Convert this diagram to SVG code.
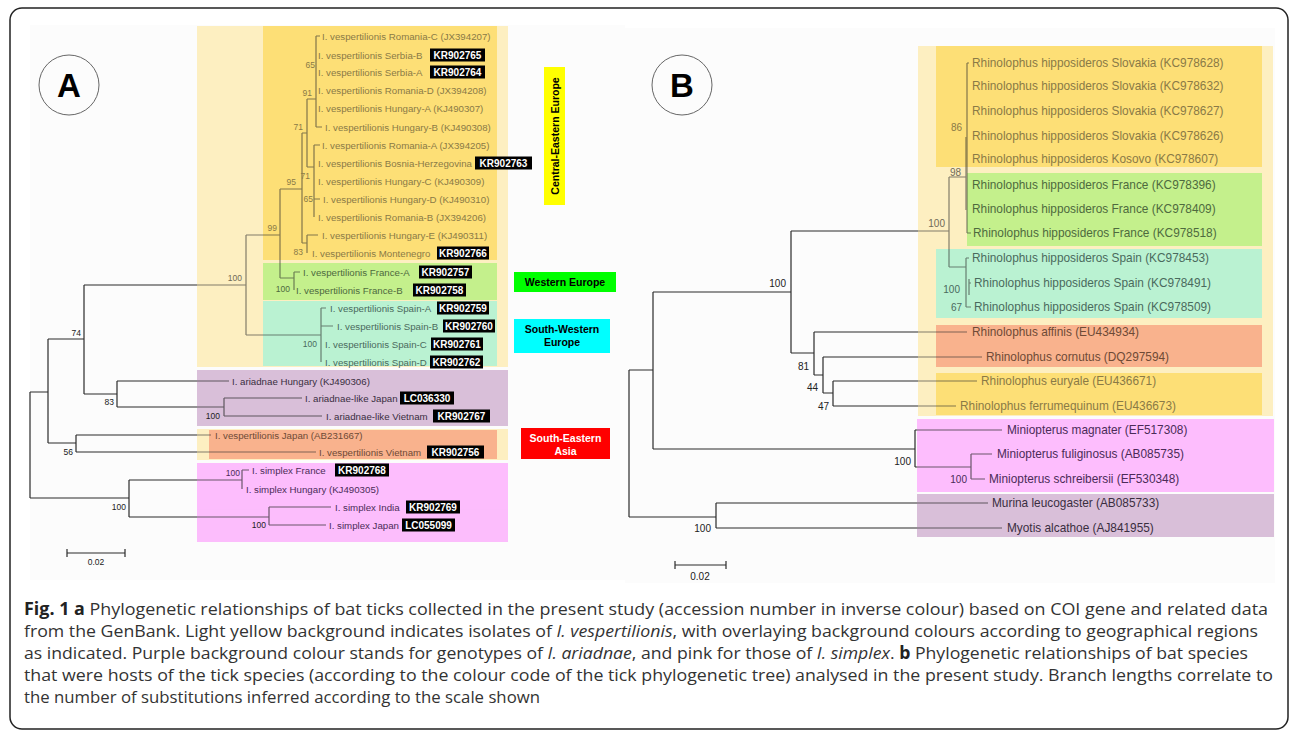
<svg xmlns="http://www.w3.org/2000/svg" xmlns:xlink="http://www.w3.org/1999/xlink" width="1292" height="733" viewBox="0 0 1292 733">
<style>
text{font-family:"Liberation Sans",Arial,sans-serif;}
.a{font-size:9.7px}
.b{font-size:11.85px}
.bs{font-size:8.5px;text-anchor:end}
.bb{font-size:10px;text-anchor:end}
.kb{fill:#000}
.kt{font-size:10px;font-weight:bold;fill:#fff;text-anchor:middle}
.ty{fill:#8a7a46}.tg{fill:#4e6a3e}.tc{fill:#4a6a5d}.tp{fill:#3a2e3f}.to{fill:#6e4a36}.tk{fill:#4b2b58}.tl{fill:#6f6a58}.tn{fill:#222}
.lg{font-size:10.5px;font-weight:bold;text-anchor:middle}
.tree{fill:none;stroke:#2b2b2b;stroke-width:1.2}
.cap{font-family:"Open Sans","Noto Sans",sans-serif;font-size:17px;fill:#333}
</style>
<defs>
<g id="reg1">
<rect x="197" y="26" width="311" height="341" fill="#fdefc1"/>
<rect x="263" y="26" width="234" height="234" fill="#fddf76"/>
<rect x="263" y="263" width="234" height="37" fill="#c4f08c"/>
<rect x="263" y="301" width="234" height="65" fill="#baf2d2"/>
<rect x="197" y="429" width="311" height="31" fill="#fdefc1"/>
<rect x="209" y="430" width="288" height="29" fill="#f9b28d"/>
<rect x="918" y="46" width="355" height="370" fill="#fdefc1"/>
<rect x="936" y="46" width="326" height="121" fill="#fddf76"/>
<rect x="967" y="173" width="295" height="73" fill="#c4f08c"/>
<rect x="936" y="249" width="326" height="69" fill="#baf2d2"/>
<rect x="936" y="325" width="326" height="42" fill="#f9b28d"/>
<rect x="936" y="373" width="326" height="42" fill="#fddf76"/>
</g>
<g id="reg2">
<rect x="197" y="370" width="311" height="56" fill="#d9bfd9"/>
<rect x="197" y="463" width="311" height="79" fill="#fdbdfd"/>
<rect x="917" y="419" width="357" height="73" fill="#fdbdfd"/>
<rect x="917" y="494" width="357" height="43" fill="#d9bfd9"/>
</g>
</defs>
<rect width="1292" height="733" fill="#fff"/>
<rect x="10" y="8" width="1278" height="721" rx="12" fill="#fff" stroke="#222" stroke-width="1.5"/>
<rect x="30" y="25" width="595" height="555" fill="#fcfcfc"/>
<rect x="625" y="28" width="650" height="555" fill="#fcfcfc"/>
<use xlink:href="#reg1"/>
<use xlink:href="#reg2"/>
<g id="connectors">
<path class="tree" d="M30 392V498M30 392H48M48 339V443M48 339H84M84 285V394M84 285H246M246 235V335M246 235H280M280 189V278M280 189H302M302 133V243M302 133H307M307 99V167M307 99H316M316 36V127M316 36H320M316 127H322M307 167H314M314 145V217M314 145H320M314 199H320M302 243H307M307 235V253M307 235H318M280 278H294M294 272V290M294 272H300M246 335H321M321 308V362M321 308H326M321 326H333M84 394H117M117 381V407M117 381H229M117 407H224M224 398V416M224 398H302M224 416H322M48 443H76M76 435V452M76 435H211M76 452H316M30 498H129M129 480V517M129 480H242M242 470V489M242 470H249M129 517H269M269 507V525M269 507H331M269 525H326"/>
<path class="tree" d="M629 370V517M629 370H653M653 292V449M653 292H791M791 231V353M791 231H949M949 177V267M949 177H966M967 63V233M967 63H969M967 233H971M949 267H966M966 258V307M966 258H969M966 307H971M969 279V295M969 283H971M791 353H814M814 332V375M814 332H967M814 375H823M823 357V393M823 357H982M823 393H833M833 381V406M833 381H977M833 406H956M653 449H915M915 430V467M915 430H1002M915 467H971M971 454V479M971 454H992M971 479H985M629 517H716M716 503V528M716 503H988M716 528H1002"/>
<path class="tree" d="M966 137V210" stroke-width="2"/>
<path class="tree" d="M67 553H125M67 549V557M125 549V557"/>
<path class="tree" d="M675 565H726M675 561V569M726 561V569"/>
</g>
<use xlink:href="#reg1" opacity="0.42"/>
<use xlink:href="#reg2" opacity="0.3"/>
<g id="panelA-label"><circle cx="69" cy="85" r="30" fill="none" stroke="#666" stroke-width="1"/><text x="69" y="97" font-size="33" font-weight="bold" text-anchor="middle" fill="#000">A</text></g>
<g id="panelB-label"><circle cx="682" cy="85" r="30" fill="none" stroke="#666" stroke-width="1"/><text x="682" y="97" font-size="33" font-weight="bold" text-anchor="middle" fill="#000">B</text></g>
<g id="a-romania-c"><text class="a ty" x="322" y="39.5">I. vespertilionis Romania-C (JX394207)</text></g>
<g id="a-serbia-b"><text class="a ty" x="318" y="58.5">I. vespertilionis Serbia-B</text><rect class="kb" x="430" y="48.5" width="55" height="13"/><text class="kt" x="457.5" y="58.6">KR902765</text></g>
<g id="a-serbia-a"><text class="a ty" x="318" y="75.5">I. vespertilionis Serbia-A</text><rect class="kb" x="430" y="65.5" width="55" height="13"/><text class="kt" x="457.5" y="75.6">KR902764</text></g>
<g id="a-romania-d"><text class="a ty" x="318" y="93.5">I. vespertilionis Romania-D (JX394208)</text></g>
<g id="a-hungary-a"><text class="a ty" x="318" y="111.5">I. vespertilionis Hungary-A (KJ490307)</text></g>
<g id="a-hungary-b"><text class="a ty" x="325" y="130.5">I. vespertilionis Hungary-B (KJ490308)</text></g>
<g id="a-romania-a"><text class="a ty" x="322" y="148.5">I. vespertilionis Romania-A (JX394205)</text></g>
<g id="a-bosnia"><text class="a ty" x="318" y="166.5">I. vespertilionis Bosnia-Herzegovina</text><rect class="kb" x="475" y="156.5" width="57" height="13"/><text class="kt" x="503.5" y="166.6">KR902763</text></g>
<g id="a-hungary-c"><text class="a ty" x="318" y="184.5">I. vespertilionis Hungary-C (KJ490309)</text></g>
<g id="a-hungary-d"><text class="a ty" x="323" y="202.5">I. vespertilionis Hungary-D (KJ490310)</text></g>
<g id="a-romania-b"><text class="a ty" x="318" y="220.5">I. vespertilionis Romania-B (JX394206)</text></g>
<g id="a-hungary-e"><text class="a ty" x="322" y="238.5">I. vespertilionis Hungary-E (KJ490311)</text></g>
<g id="a-montenegro"><text class="a ty" x="312" y="256.5">I. vespertilionis Montenegro</text><rect class="kb" x="437" y="246.5" width="52" height="13"/><text class="kt" x="463" y="256.6">KR902766</text></g>
<g id="a-france-a"><text class="a tg" x="303" y="275.5">I. vespertilionis France-A</text><rect class="kb" x="419" y="265.5" width="53" height="13"/><text class="kt" x="445.5" y="275.6">KR902757</text></g>
<g id="a-france-b"><text class="a tg" x="296" y="293.5">I. vespertilionis France-B</text><rect class="kb" x="413" y="283.5" width="53" height="13"/><text class="kt" x="439.5" y="293.6">KR902758</text></g>
<g id="a-spain-a"><text class="a tc" x="330" y="311.5">I. vespertilionis Spain-A</text><rect class="kb" x="437" y="301.5" width="52" height="13"/><text class="kt" x="463" y="311.6">KR902759</text></g>
<g id="a-spain-b"><text class="a tc" x="337" y="329.5">I. vespertilionis Spain-B</text><rect class="kb" x="443" y="319.5" width="52" height="13"/><text class="kt" x="469" y="329.6">KR902760</text></g>
<g id="a-spain-c"><text class="a tc" x="325" y="347.5">I. vespertilionis Spain-C</text><rect class="kb" x="431" y="337.5" width="52" height="13"/><text class="kt" x="457" y="347.6">KR902761</text></g>
<g id="a-spain-d"><text class="a tc" x="325" y="365.5">I. vespertilionis Spain-D</text><rect class="kb" x="430" y="355.5" width="53" height="13"/><text class="kt" x="456.5" y="365.6">KR902762</text></g>
<g id="a-ariadnae-hungary"><text class="a tp" x="232" y="384.5">I. ariadnae Hungary (KJ490306)</text></g>
<g id="a-ariadnae-japan"><text class="a tp" x="305" y="401.5">I. ariadnae-like Japan</text><rect class="kb" x="400" y="391.5" width="54" height="13"/><text class="kt" x="427" y="401.6">LC036330</text></g>
<g id="a-ariadnae-vietnam"><text class="a tp" x="326" y="419.5">I. ariadnae-like Vietnam</text><rect class="kb" x="433" y="409.5" width="57" height="13"/><text class="kt" x="461.5" y="419.6">KR902767</text></g>
<g id="a-vesp-japan"><text class="a to" x="215" y="438.5">I. vespertilionis Japan (AB231667)</text></g>
<g id="a-vesp-vietnam"><text class="a to" x="319" y="455.5">I. vespertilionis Vietnam</text><rect class="kb" x="427" y="445.5" width="57" height="13"/><text class="kt" x="455.5" y="455.6">KR902756</text></g>
<g id="a-simplex-france"><text class="a tk" x="252" y="473.5">I. simplex France</text><rect class="kb" x="335" y="463.5" width="54" height="13"/><text class="kt" x="362" y="473.6">KR902768</text></g>
<g id="a-simplex-hungary"><text class="a tk" x="246" y="492.5">I. simplex Hungary (KJ490305)</text></g>
<g id="a-simplex-india"><text class="a tk" x="335" y="510.5">I. simplex India</text><rect class="kb" x="406" y="500.5" width="54" height="13"/><text class="kt" x="433" y="510.6">KR902769</text></g>
<g id="a-simplex-japan"><text class="a tk" x="329" y="528.5">I. simplex Japan</text><rect class="kb" x="402" y="518.5" width="53" height="13"/><text class="kt" x="428.5" y="528.6">LC055099</text></g>
<g id="a-support">
<text class="bs ty" x="315" y="68">65</text>
<text class="bs ty" x="312" y="96">91</text>
<text class="bs ty" x="303" y="130">71</text>
<text class="bs ty" x="310" y="179">71</text>
<text class="bs ty" x="313" y="202">65</text>
<text class="bs ty" x="296" y="185">95</text>
<text class="bs ty" x="277" y="231">99</text>
<text class="bs ty" x="303" y="255">83</text>
<text class="bs tl" x="242" y="281">100</text>
<text class="bs tg" x="290" y="292">100</text>
<text class="bs tc" x="317" y="347">100</text>
<text class="bs tn" x="81" y="336">74</text>
<text class="bs tn" x="114" y="405">83</text>
<text class="bs tn" x="220" y="419">100</text>
<text class="bs tn" x="73" y="455">56</text>
<text class="bs tn" x="126" y="510">100</text>
<text class="bs tk" x="240" y="476">100</text>
<text class="bs tn" x="266" y="528">100</text>
<text class="tn" x="96" y="565" font-size="8.5" text-anchor="middle">0.02</text>
</g>
<g id="legend-central-eastern"><rect x="544" y="67" width="21" height="138" fill="#ffff00"/><text class="lg" transform="translate(558.5 136) rotate(-90)" fill="#000">Central-Eastern Europe</text></g>
<g id="legend-western"><rect x="514" y="272" width="102" height="20" fill="#00ff00"/><text class="lg" x="565" y="285.5" fill="#000">Western Europe</text></g>
<g id="legend-south-western"><rect x="514" y="319" width="96" height="34" fill="#00ffff"/><text class="lg" x="562" y="333" fill="#000">South-Western</text><text class="lg" x="562" y="346" fill="#000">Europe</text></g>
<g id="legend-south-eastern"><rect x="521" y="428" width="89" height="31" fill="#ff0000"/><text class="lg" x="565.5" y="441.5" fill="#fff">South-Eastern</text><text class="lg" x="565.5" y="454.5" fill="#fff">Asia</text></g>
<g id="b-slovakia-1"><text class="b ty" x="972" y="67.2">Rhinolophus hipposideros Slovakia (KC978628)</text></g>
<g id="b-slovakia-2"><text class="b ty" x="972" y="90.2">Rhinolophus hipposideros Slovakia (KC978632)</text></g>
<g id="b-slovakia-3"><text class="b ty" x="972" y="115.2">Rhinolophus hipposideros Slovakia (KC978627)</text></g>
<g id="b-slovakia-4"><text class="b ty" x="972" y="140.2">Rhinolophus hipposideros Slovakia (KC978626)</text></g>
<g id="b-kosovo"><text class="b ty" x="972" y="163.2">Rhinolophus hipposideros Kosovo (KC978607)</text></g>
<g id="b-france-1"><text class="b tg" x="972" y="189.2">Rhinolophus hipposideros France (KC978396)</text></g>
<g id="b-france-2"><text class="b tg" x="972" y="213.2">Rhinolophus hipposideros France (KC978409)</text></g>
<g id="b-france-3"><text class="b tg" x="973" y="237.2">Rhinolophus hipposideros France (KC978518)</text></g>
<g id="b-spain-1"><text class="b tc" x="972" y="262.2">Rhinolophus hipposideros Spain (KC978453)</text></g>
<g id="b-spain-2"><text class="b tc" x="974" y="287.2">Rhinolophus hipposideros Spain (KC978491)</text></g>
<g id="b-spain-3"><text class="b tc" x="974" y="311.2">Rhinolophus hipposideros Spain (KC978509)</text></g>
<g id="b-affinis"><text class="b to" x="972" y="336.2">Rhinolophus affinis (EU434934)</text></g>
<g id="b-cornutus"><text class="b to" x="986" y="361.2">Rhinolophus cornutus (DQ297594)</text></g>
<g id="b-euryale"><text class="b ty" x="981" y="385.2">Rhinolophus euryale (EU436671)</text></g>
<g id="b-ferrumequinum"><text class="b ty" x="960" y="410.2">Rhinolophus ferrumequinum (EU436673)</text></g>
<g id="b-magnater"><text class="b tk" x="1007" y="434.2">Miniopterus magnater (EF517308)</text></g>
<g id="b-fuliginosus"><text class="b tk" x="997" y="458.2">Miniopterus fuliginosus (AB085735)</text></g>
<g id="b-schreibersii"><text class="b tk" x="989" y="483.2">Miniopterus schreibersii (EF530348)</text></g>
<g id="b-murina"><text class="b tp" x="992" y="507.2">Murina leucogaster (AB085733)</text></g>
<g id="b-myotis"><text class="b tp" x="1007" y="532.2">Myotis alcathoe (AJ841955)</text></g>
<g id="b-support">
<text class="bb tn" x="786" y="287">100</text>
<text class="bb tl" x="945" y="227">100</text>
<text class="bb tl" x="961" y="176">98</text>
<text class="bb ty" x="962" y="131">86</text>
<text class="bb tc" x="960" y="293">100</text>
<text class="bb tc" x="962" y="311">67</text>
<text class="bb tn" x="809" y="370">81</text>
<text class="bb tn" x="818" y="391">44</text>
<text class="bb tn" x="829" y="410">47</text>
<text class="bb tn" x="911" y="465">100</text>
<text class="bb tk" x="967" y="483">100</text>
<text class="bb tn" x="711" y="532">100</text>
<text class="tn" x="700" y="580" font-size="10" text-anchor="middle">0.02</text>
</g>
<g id="caption">
<text class="cap" x="24" y="615" textLength="1244" lengthAdjust="spacingAndGlyphs"><tspan font-weight="bold" fill="#222">Fig. 1 a</tspan> Phylogenetic relationships of bat ticks collected in the present study (accession number in inverse colour) based on COI gene and related data</text>
<text class="cap" x="24" y="637" textLength="1234" lengthAdjust="spacingAndGlyphs">from the GenBank. Light yellow background indicates isolates of <tspan font-style="italic">I. vespertilionis</tspan>, with overlaying background colours according to geographical regions</text>
<text class="cap" x="24" y="659" textLength="1224" lengthAdjust="spacingAndGlyphs">as indicated. Purple background colour stands for genotypes of <tspan font-style="italic">I. ariadnae</tspan>, and pink for those of <tspan font-style="italic">I. simplex</tspan>. <tspan font-weight="bold" fill="#222">b</tspan> Phylogenetic relationships of bat species</text>
<text class="cap" x="24" y="681" textLength="1249" lengthAdjust="spacingAndGlyphs">that were hosts of the tick species (according to the colour code of the tick phylogenetic tree) analysed in the present study. Branch lengths correlate to</text>
<text class="cap" x="24" y="703" textLength="516" lengthAdjust="spacingAndGlyphs">the number of substitutions inferred according to the scale shown</text>
</g>
</svg>
